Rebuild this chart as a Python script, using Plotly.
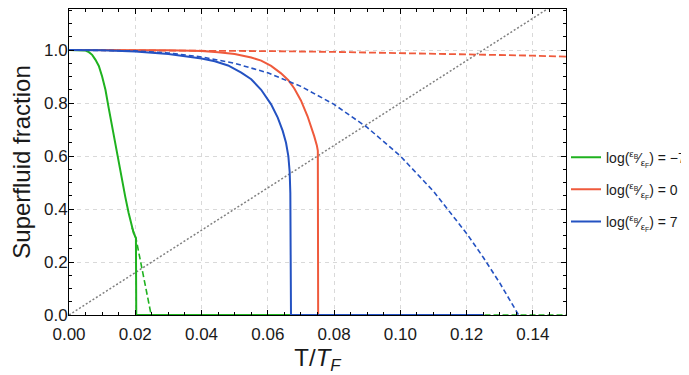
import plotly.graph_objects as go

# ---------------- data ----------------
green_x = [0, 0.004, 0.005, 0.006, 0.007, 0.008, 0.009, 0.010, 0.011, 0.012, 0.013,
           0.014, 0.015, 0.016, 0.017, 0.018, 0.019, 0.0195, 0.0202, 0.0203, 0.125]
green_y = [1.0, 1.0, 0.998, 0.992, 0.982, 0.963, 0.94, 0.90, 0.85, 0.78, 0.71,
           0.645, 0.58, 0.51, 0.445, 0.385, 0.33, 0.31, 0.29, 0.0, 0.0]
green_dash_x = [0.019, 0.0195, 0.0202, 0.0225, 0.0248, 0.15]
green_dash_y = [0.33, 0.31, 0.29, 0.145, 0.0, 0.0]

red_x = [0, 0.02, 0.03, 0.04, 0.045, 0.05, 0.055, 0.058, 0.061, 0.064, 0.0662,
         0.068, 0.070, 0.072, 0.073, 0.074, 0.0748, 0.0751, 0.0752, 0.125]
red_y = [1.0, 1.0, 0.999, 0.996, 0.992, 0.985, 0.972, 0.96, 0.94, 0.912, 0.886,
         0.855, 0.81, 0.75, 0.715, 0.675, 0.64, 0.62, 0.0, 0.0]
red_dash_x = [0, 0.02, 0.04, 0.06, 0.08, 0.10, 0.12, 0.14, 0.15]
red_dash_y = [1.0, 0.9995, 0.998, 0.996, 0.993, 0.989, 0.985, 0.979, 0.975]

blue_x = [0, 0.01, 0.02, 0.03, 0.04, 0.044, 0.048, 0.052, 0.055, 0.058, 0.061,
          0.063, 0.0645, 0.0655, 0.0662, 0.0666, 0.0668, 0.0669, 0.06695, 0.0670, 0.125]
blue_y = [1.0, 0.999, 0.995, 0.985, 0.968, 0.958, 0.942, 0.915, 0.89, 0.85, 0.795,
          0.745, 0.695, 0.65, 0.60, 0.54, 0.46, 0.35, 0.2, 0.0, 0.0]
blue_dash_x = [0, 0.01, 0.02, 0.03, 0.04, 0.05, 0.06, 0.07, 0.08, 0.09, 0.10,
               0.11, 0.12, 0.125, 0.13, 0.1357]
blue_dash_y = [1.0, 0.9996, 0.997, 0.989, 0.974, 0.950, 0.914, 0.863, 0.795, 0.708, 0.600,
               0.467, 0.308, 0.218, 0.121, 0.0]

ref_x = [0, 0.15]
ref_y = [0, 1.2]

x_ticks = [0, 0.02, 0.04, 0.06, 0.08, 0.10, 0.12, 0.14]
y_ticks = [0, 0.2, 0.4, 0.6, 0.8, 1.0]

names = ["log(<sup>ε<sub>B</sub></sup>⁄<sub>ε<sub>F</sub></sub>) = −7",
         "log(<sup>ε<sub>B</sub></sup>⁄<sub>ε<sub>F</sub></sub>) = 0",
         "log(<sup>ε<sub>B</sub></sup>⁄<sub>ε<sub>F</sub></sub>) = 7"]

GREEN = "#1fb21f"
RED = "#ef5a3c"
BLUE = "#2452c2"
FONT = "Liberation Sans, Arial, sans-serif"

fig = go.Figure()

fig.add_trace(go.Scatter(x=ref_x, y=ref_y, mode="lines", showlegend=False,
                         line=dict(color="#808080", width=1.5, dash="2px,2px")))

fig.add_trace(go.Scatter(x=green_dash_x, y=green_dash_y, mode="lines", showlegend=False,
                         legendgroup="g", line=dict(color=GREEN, width=1.6, dash="6px,3px")))
fig.add_trace(go.Scatter(x=green_x, y=green_y, mode="lines", name=names[0],
                         legendgroup="g", line=dict(color=GREEN, width=2)))

fig.add_trace(go.Scatter(x=red_dash_x, y=red_dash_y, mode="lines", showlegend=False,
                         legendgroup="r", line=dict(color=RED, width=1.8, dash="7px,3px")))
fig.add_trace(go.Scatter(x=red_x, y=red_y, mode="lines", name=names[1],
                         legendgroup="r", line=dict(color=RED, width=2)))

fig.add_trace(go.Scatter(x=blue_dash_x, y=blue_dash_y, mode="lines", showlegend=False,
                         legendgroup="b", line=dict(color=BLUE, width=1.6, dash="5px,3px")))
fig.add_trace(go.Scatter(x=blue_x, y=blue_y, mode="lines", name=names[2],
                         legendgroup="b", line=dict(color=BLUE, width=2)))

axis_common = dict(
    showline=True, linecolor="black", linewidth=1, mirror="ticks",
    ticks="inside", ticklen=5, tickcolor="black", tickwidth=1,
    showgrid=True, gridcolor="#d9d9d9", griddash="4px,4px", gridwidth=1,
    zeroline=False, tickfont=dict(family=FONT, size=17, color="#1a1a1a"),
)

fig.update_xaxes(range=[0, 0.15], tickvals=x_ticks, tickformat=".2f",
                 ticklabelstandoff=4,
                 minor=dict(dtick=0.005, tick0=0, ticks="inside", ticklen=3,
                            tickcolor="black", showgrid=False),
                 title=dict(text="T/<i>T<sub>F</sub></i>", font=dict(family=FONT, size=24, color="#1a1a1a"),
                            standoff=18),
                 **axis_common)
fig.update_yaxes(range=[0, 1.155], tickvals=y_ticks, tickformat=".1f",
                 ticklabelstandoff=-3,
                 minor=dict(dtick=0.05, tick0=0, ticks="inside", ticklen=3,
                            tickcolor="black", showgrid=False),
                 title=dict(text="Superfluid fraction", font=dict(family=FONT, size=24, color="#1a1a1a"),
                            standoff=11),
                 **axis_common)

# The page body has an 8px margin, so the figure is sized to the remaining window area.
fig.update_layout(
    width=681, height=367,
    margin=dict(l=61, r=123, t=1, b=60, autoexpand=False),
    plot_bgcolor="white", paper_bgcolor="white",
    font=dict(family=FONT, color="#1a1a1a"),
    legend=dict(x=1.0, xanchor="left", y=0.41, yanchor="middle",
                font=dict(family=FONT, size=14), itemwidth=30,
                tracegroupgap=11, bgcolor="rgba(0,0,0,0)"),
)

fig.write_html("out.html")
